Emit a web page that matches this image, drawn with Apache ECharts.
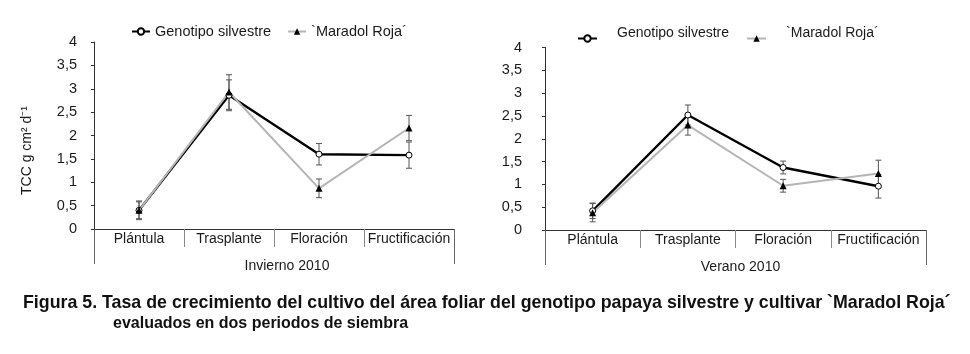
<!DOCTYPE html>
<html>
<head>
<meta charset="utf-8">
<script src="https://cdn.jsdelivr.net/npm/echarts@6/dist/echarts.min.js"></script>
<style>
  html, body { margin: 0; padding: 0; background: #fff; }
  #main { width: 970px; height: 354px; }
</style>
</head>
<body>
<div id="main"></div>
<script>
// categorias y periodos
const categories = ['Plántula', 'Trasplante', 'Floración', 'Fructificación'];
const periods = ['Invierno 2010', 'Verano 2010'];
const seriesNames = ['Genotipo silvestre', '`Maradol Roja´'];
const yTickLabels = ['0', '0,5', '1', '1,5', '2', '2,5', '3', '3,5', '4'];

// Invierno 2010
const invSilvestre = [0.40, 2.86, 1.60, 1.58];
const invSilvestreErr = [0.18, 0.33, 0.23, 0.28];
const invMaradol = [0.40, 2.93, 0.87, 2.16];
const invMaradolErr = [0.20, 0.37, 0.20, 0.27];

// Verano 2010
const verSilvestre = [0.42, 2.52, 1.37, 0.96];
const verSilvestreErr = [0.17, 0.22, 0.14, 0.26];
const verMaradol = [0.38, 2.30, 0.97, 1.24];
const verMaradolErr = [0.20, 0.22, 0.14, 0.29];

const font = 'Liberation Sans, Arial, sans-serif';
const textColor = '#1a1a1a';

const chart = echarts.init(document.getElementById('main'));

function lineSeries(idx, which, values) {
  const silv = which === 0;
  return {
    type: 'line',
    name: seriesNames[which],
    xAxisIndex: idx * 2,
    yAxisIndex: idx,
    data: values,
    symbol: silv ? 'circle' : 'triangle',
    symbolSize: silv ? 6 : 7,
    showAllSymbol: true,
    lineStyle: { color: silv ? '#000' : '#b5b5b5', width: silv ? 2.4 : 2 },
    itemStyle: silv
      ? { color: '#fff', borderColor: '#000', borderWidth: 1 }
      : { color: '#000', borderColor: '#000', borderWidth: 0 },
    z: 3,
    animation: false,
  };
}

function errorSeries(idx, which, means, errs) {
  return {
    type: 'custom',
    name: seriesNames[which] + ' error',
    xAxisIndex: idx * 2,
    yAxisIndex: idx,
    silent: true,
    z: 2,
    data: means.map((m, i) => [i, m - errs[i], m + errs[i]]),
    renderItem(params, api) {
      const i = api.value(0);
      const lo = api.coord([i, api.value(1)]);
      const hi = api.coord([i, api.value(2)]);
      const w = 3;
      const st = { stroke: '#555', lineWidth: 1 };
      return {
        type: 'group',
        children: [
          { type: 'line', shape: { x1: lo[0], y1: lo[1], x2: hi[0], y2: hi[1] }, style: st },
          { type: 'line', shape: { x1: lo[0] - w, y1: lo[1], x2: lo[0] + w, y2: lo[1] }, style: st },
          { type: 'line', shape: { x1: hi[0] - w, y1: hi[1], x2: hi[0] + w, y2: hi[1] }, style: st },
        ],
      };
    },
    animation: false,
  };
}

function catAxis(idx) {
  return {
    type: 'category',
    gridIndex: idx,
    position: 'bottom',
    data: categories,
    boundaryGap: true,
    axisLine: { show: true, onZero: false, lineStyle: { color: '#333', width: 1 } },
    axisTick: { show: true, interval: 0, length: 18, lineStyle: { color: '#8a8a8a' } },
    axisLabel: { interval: 0, margin: 3, fontSize: 14, fontFamily: font, color: textColor },
  };
}

function periodAxis(idx) {
  return {
    type: 'category',
    gridIndex: idx,
    position: 'bottom',
    offset: 0,
    data: [periods[idx]],
    boundaryGap: true,
    axisLine: { show: false },
    axisTick: { show: true, interval: 0, length: 35, lineStyle: { color: '#666' } },
    axisLabel: {
      margin: 30, fontSize: 14, fontFamily: font, color: textColor,
      padding: idx === 0 ? [0, 0, 0, 26] : [0, 0, 0, 10],
    },
  };
}

function valAxis(idx) {
  return {
    type: 'value',
    gridIndex: idx,
    min: 0,
    max: 4,
    interval: 0.5,
    name: idx === 0 ? 'TCC g cm² d⁻¹' : '',
    nameLocation: 'middle',
    nameRotate: 90,
    nameGap: 60,
    nameTextStyle: { fontSize: 14, fontFamily: font, color: textColor, padding: [0, 30, 0, 0] },
    axisLine: { show: true, lineStyle: { color: '#333', width: 1 } },
    axisTick: { show: true, length: 3, lineStyle: { color: '#333' } },
    splitLine: { show: false },
    axisLabel: {
      margin: idx === 0 ? 17 : 23,
      fontSize: 14.5, fontFamily: font, color: textColor,
      formatter: (v) => yTickLabels[Math.round(v / 0.5)],
    },
  };
}

const option = {
  backgroundColor: '#fff',
  animation: false,
  title: [
    {
      text: 'Figura 5. Tasa de crecimiento del cultivo del área foliar del genotipo papaya silvestre y cultivar `Maradol Roja´',
      left: 18, top: 289,
      textStyle: { fontSize: 17.8, fontWeight: 'bold', fontFamily: font, color: '#111' },
    },
    {
      text: 'evaluados en dos periodos de siembra',
      left: 108, top: 311,
      textStyle: { fontSize: 16, fontWeight: 'bold', fontFamily: font, color: '#111' },
    },
  ],
  legend: [
    {
      data: seriesNames,
      left: 126, top: 19,
      itemWidth: 18, itemHeight: 8, itemGap: 16,
      textStyle: { fontSize: 14.5, fontFamily: font, color: textColor },
    },
    {
      data: seriesNames,
      left: 572, top: 21,
      itemWidth: 19, itemHeight: 8, itemGap: 17,
      formatter: '{t|{name}}',
      textStyle: {
        fontSize: 14, fontFamily: font, color: textColor,
        rich: { t: { fontSize: 14, fontFamily: font, color: textColor, padding: [0, 0, 11, 15] } },
      },
    },
  ],
  grid: [
    { left: 94, top: 42, width: 360, height: 187 },
    { left: 545, top: 47.5, width: 381, height: 182.5 },
  ],
  xAxis: [catAxis(0), periodAxis(0), catAxis(1), periodAxis(1)],
  yAxis: [valAxis(0), valAxis(1)],
  series: [
    errorSeries(0, 0, invSilvestre, invSilvestreErr),
    errorSeries(0, 1, invMaradol, invMaradolErr),
    lineSeries(0, 0, invSilvestre),
    lineSeries(0, 1, invMaradol),
    errorSeries(1, 0, verSilvestre, verSilvestreErr),
    errorSeries(1, 1, verMaradol, verMaradolErr),
    lineSeries(1, 0, verSilvestre),
    lineSeries(1, 1, verMaradol),
  ],
};

chart.setOption(option);
</script>
</body>
</html>
